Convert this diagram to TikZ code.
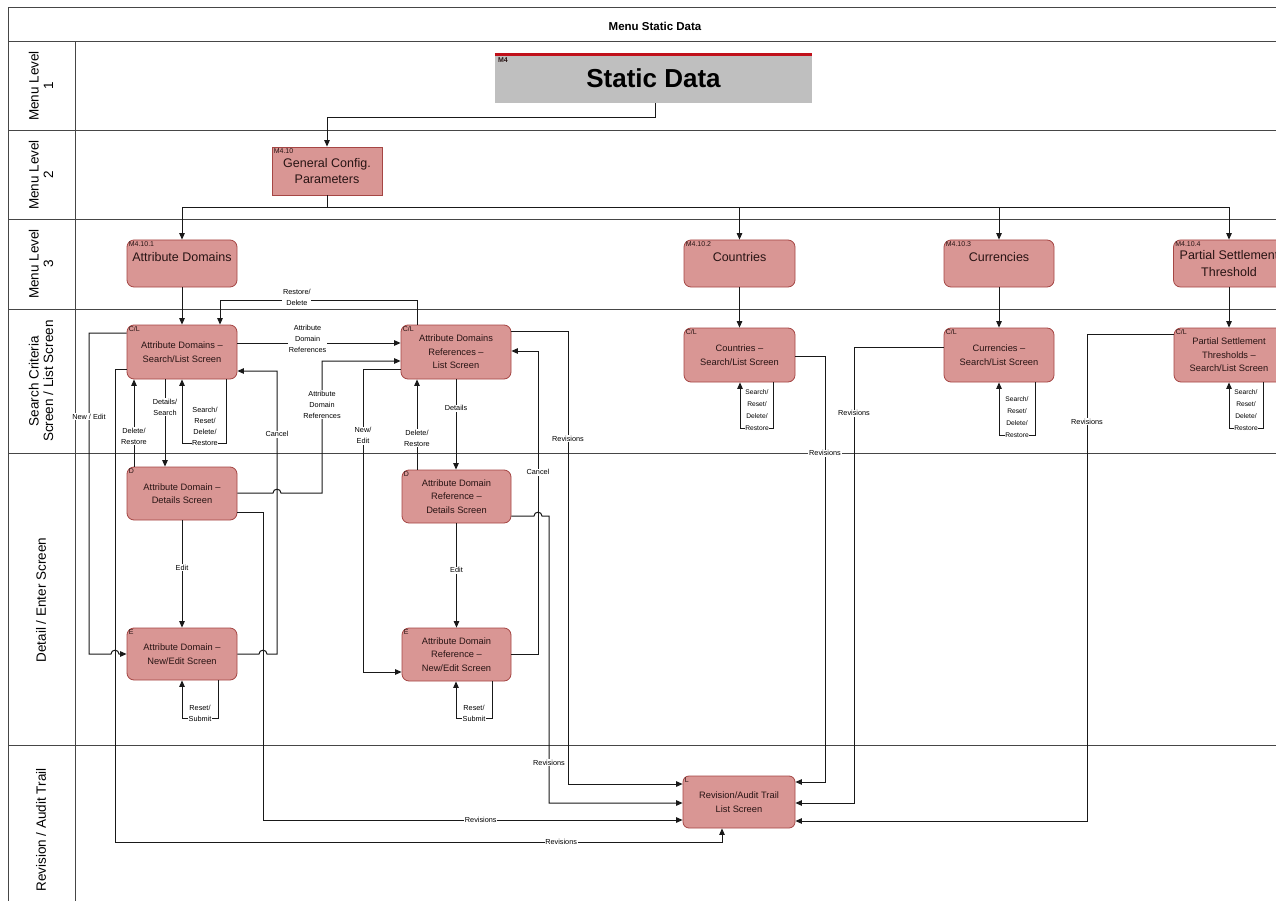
\documentclass[tikz,border=0pt]{standalone}
\usepackage{fontspec}
\setmainfont{Liberation Sans}
\usetikzlibrary{arrows.meta}
\definecolor{boxfill}{RGB}{217,150,148}
\definecolor{boxdraw}{RGB}{165,70,68}
\definecolor{boxtext}{RGB}{40,20,20}
\definecolor{lanecol}{RGB}{70,70,70}
\definecolor{linecol}{RGB}{25,25,25}
\definecolor{grayfill}{RGB}{191,191,191}
\definecolor{topred}{RGB}{192,16,26}
\tikzset{
 lane/.style={draw=lanecol, line width=1pt},
 box/.style={draw=boxdraw, fill=boxfill, rounded corners=7pt, line width=0.8pt, align=center,
   font=\fontsize{9.3}{13.5}\selectfont, inner sep=0pt, text=boxtext},
 sqbox/.style={box, rounded corners=0pt},
 lvlbox/.style={box, font=\fontsize{12.5}{16.5}\selectfont},
 idlab/.style={anchor=north west, font=\fontsize{7}{7.5}\selectfont, inner xsep=2pt, inner ysep=1.8pt, text=boxtext},
 lab/.style={fill=white, inner sep=0.8pt, align=center, font=\fontsize{7.3}{11}\selectfont},
 slab/.style={fill=white, inner sep=0.3pt, align=center, font=\fontsize{6.7}{12}\selectfont},
 conn/.style={draw=linecol, line width=1pt},
 arr/.style={conn, -{Triangle[length=6.5pt,width=5.5pt]}},
 lanelab/.style={rotate=90, align=center, font=\fontsize{13.5}{14.5}\selectfont},
}
\begin{document}
\begin{tikzpicture}[x=1pt,y=-1pt]
\useasboundingbox (0,0) rectangle (1276,901);
\clip (0,0) rectangle (1276,901);
\fill[white] (0,0) rectangle (1276,901);

% frame and lanes
\draw[lane] (8,901) -- (8,8) -- (1276,8);
\foreach \yy in {42,131,220,309,453,745} {\draw[lane] (8,\yy) -- (1276,\yy);}
\draw[lane] (75,42) -- (75,901);
\node[font=\bfseries\fontsize{11.5}{12}\selectfont] (title) at (655,26) {Menu Static Data};
\node[lanelab] (ll1) at (41,86) {Menu Level\\1};
\node[lanelab] (ll2) at (41,175) {Menu Level\\2};
\node[lanelab] (ll3) at (41,264) {Menu Level\\3};
\node[lanelab] (ll4) at (41,381) {Search Criteria\\Screen / List Screen};
\node[lanelab] (ll5) at (41,600) {Detail / Enter Screen};
\node[lanelab] (ll6) at (41,830) {Revision / Audit Trail};

% level 1
\node[fill=grayfill, minimum width=317pt, minimum height=50pt, inner sep=0pt,
  font=\bfseries\fontsize{26}{28}\selectfont] (static) at (653.5,78) {Static Data};
\draw[line width=3pt, draw=topred] ([yshift=-1.5pt]static.north west) -- ([yshift=-1.5pt]static.north east);
\node[idlab, font=\bfseries\fontsize{7}{7.5}\selectfont, inner xsep=3pt] (m4id) at ([yshift=-3pt]static.north west) {M4};

% level 2
\node[sqbox, lvlbox, rounded corners=0pt, minimum width=110pt, minimum height=48pt] (gcp) at (327,171) {General Config.\\Parameters};
\node[idlab] (gcpid) at (gcp.north west) {M4.10};

% level 3
\node[lvlbox, minimum width=110pt, minimum height=47pt] (ad) at (182,263.5) {Attribute Domains\\[-3pt]\mbox{}};
\node[idlab] (adid) at (ad.north west) {M4.10.1};
\node[lvlbox, minimum width=111pt, minimum height=47pt] (countries) at (739.5,263.5) {Countries\\[-3pt]\mbox{}};
\node[idlab] (countriesid) at (countries.north west) {M4.10.2};
\node[lvlbox, minimum width=110pt, minimum height=47pt] (currencies) at (999,263.5) {Currencies\\[-3pt]\mbox{}};
\node[idlab] (currenciesid) at (currencies.north west) {M4.10.3};
\node[lvlbox, minimum width=111pt, minimum height=47pt] (partial) at (1229,263.5) {Partial Settlement\\Threshold};
\node[idlab] (partialid) at (partial.north west) {M4.10.4};

% search / list lane
\node[box, minimum width=110pt, minimum height=54pt] (adsl) at (182,352) {Attribute Domains –\\Search/List Screen};
\node[idlab] (adslid) at (adsl.north west) {C/L};
\node[box, minimum width=110pt, minimum height=54pt] (adrl) at (456,352) {Attribute Domains\\References –\\List Screen};
\node[idlab] (adrlid) at (adrl.north west) {C/L};
\node[box, minimum width=111pt, minimum height=54pt] (csl) at (739.5,355) {Countries –\\Search/List Screen};
\node[idlab] (cslid) at (csl.north west) {C/L};
\node[box, minimum width=110pt, minimum height=54pt] (cusl) at (999,355) {Currencies –\\Search/List Screen};
\node[idlab] (cuslid) at (cusl.north west) {C/L};
\node[box, minimum width=110pt, minimum height=54pt] (psl) at (1229,355) {Partial Settlement\\Thresholds –\\Search/List Screen};
\node[idlab] (pslid) at (psl.north west) {C/L};

% detail lane
\node[box, minimum width=110pt, minimum height=53pt] (add) at (182,493.5) {Attribute Domain –\\Details Screen};
\node[idlab] (addid) at (add.north west) {D};
\node[box, minimum width=110pt, minimum height=52pt] (adne) at (182,654) {Attribute Domain –\\New/Edit Screen};
\node[idlab] (adneid) at (adne.north west) {E};
\node[box, minimum width=109pt, minimum height=53pt] (adrd) at (456.5,496.5) {Attribute Domain\\Reference –\\Details Screen};
\node[idlab] (adrdid) at (adrd.north west) {D};
\node[box, minimum width=109pt, minimum height=53pt] (adrne) at (456.5,654.5) {Attribute Domain\\Reference –\\New/Edit Screen};
\node[idlab] (adrneid) at (adrne.north west) {E};

% revision lane
\node[box, rounded corners=6pt, minimum width=112pt, minimum height=52pt] (rev) at (739,802) {Revision/Audit Trail\\List Screen};
\node[idlab] (revid) at (rev.north west) {L};

% menu connectors
\draw[arr] (static.south -| 655,0) -- ++(0,14) -| (gcp.north);
\draw[arr] (gcp.south) -- ++(0,12) -| (ad.north);
\draw[arr] (gcp.south) -- ++(0,12) -| (countries.north);
\draw[arr] (gcp.south) -- ++(0,12) -| (currencies.north);
\draw[arr] (gcp.south) -- ++(0,12) -| (partial.north);
\draw[arr] (ad) -- (adsl);
\draw[arr] (countries.south) -- (csl.north);
\draw[arr] (currencies.south) -- (cusl.north);
\draw[arr] (partial.south) -- (psl.north);

% attribute domains search/list
\draw[arr] (adrl.north -| 417,0) -- (417,300) -- node[lab, pos=0.61, yshift=3pt]{Restore/\\Delete} (220,300) -- (adsl.north -| 220,0);
\draw[arr] (adsl.east |- 0,343) -- node[lab, pos=0.43, yshift=4pt]{Attribute\\Domain\\References} (adrl.west |- 0,343);
\draw[arr] (add.east |- 0,493) -- (273,493) .. controls (273,488) and (281,488) .. (281,493) -- (322,493)
   -- node[lab, pos=0.667]{Attribute\\Domain\\References} (322,361) -- (adrl.west |- 0,361);
\draw[arr] (adne.east |- 0,654) -- (259,654) .. controls (259,649) and (267,649) .. (267,654) -- (277,654)
   -- node[lab, pos=0.777]{Cancel} (277,371) -- (adsl.east |- 0,371);
\draw[arr] (add.east |- 0,512) -- (263,512) -- (263,820) -- node[lab, pos=0.519]{Revisions} (rev.west |- 0,820);
\draw[arr] (adsl.south -| 165,0) -- node[lab, pos=0.32]{Details/\\Search} (add.north -| 165,0);
\draw[arr] (add.north -| 134,0) -- node[lab, pos=0.35]{Delete/\\Restore} (adsl.south -| 134,0);
\draw[arr] (adsl.south -| 226,0) -- (226,443) -- (182,443) -- (adsl.south);
\node[lab, inner sep=0.3pt] (adslloop) at (205,426) {Search/\\Reset/\\Delete/\\Restore};
\draw[arr] (adsl.west |- 0,333) -- (89,333) -- node[lab, pos=0.26]{New / Edit} (89,654) -- (111,654)
   .. controls (111,649) and (119,649) .. (119,654) -- (adne.west |- 0,654);
\draw[arr] (adsl.west |- 0,369) -- (115,369) -- (115,842) -- node[lab, pos=0.735]{Revisions} (722,842) -- (rev.south -| 722,0);
\draw[arr] (add) -- node[lab, pos=0.44]{Edit} (adne);
\draw[arr] (adne.south -| 218,0) -- (218,718) -- (182,718) -- (adne.south);
\node[lab, inner sep=0.3pt] (adneloop) at (200,713) {Reset/\\Submit};

% attribute domain references
\draw[arr] (adrl.south -| 456,0) -- node[lab, pos=0.32]{Details} (adrd.north -| 456,0);
\draw[arr] (adrd.north -| 417,0) -- node[lab, pos=0.35]{Delete/\\Restore} (adrl.south -| 417,0);
\draw[arr] (adrl.west |- 0,369) -- (363,369) -- node[lab, pos=0.22]{New/\\Edit} (363,672) -- (adrne.west |- 0,672);
\draw[arr] (adrne.east |- 0,654) -- (538,654) -- node[lab, pos=0.6]{Cancel} (538,351) -- (adrl.east |- 0,351);
\draw[arr] (adrd.east |- 0,516) -- (534,516) .. controls (534,511) and (542,511) .. (542,516) -- (549,516)
   -- node[lab, pos=0.86]{Revisions} (549,803) -- (rev.west |- 0,803);
\draw[arr] (adrl.east |- 0,331) -- (568,331) -- node[lab, pos=0.238]{Revisions} (568,784) -- (rev.west |- 0,784);
\draw[arr] (adrd) -- node[lab, pos=0.45]{Edit} (adrne);
\draw[arr] (adrne.south -| 492,0) -- (492,718) -- (456,718) -- (adrne.south -| 456,0);
\node[lab, inner sep=0.3pt] (adrneloop) at (474,713) {Reset/\\Submit};

% countries, currencies, partial
\draw[arr] (csl.east |- 0,356) -- (825,356) -- node[lab, pos=0.228]{Revisions} (825,782) -- (rev.east |- 0,782);
\draw[arr] (cusl.west |- 0,347) -- (854,347) -- node[lab, pos=0.145]{Revisions} (854,803) -- (rev.east |- 0,803);
\draw[arr] (psl.west |- 0,334) -- (1087,334) -- node[lab, pos=0.18]{Revisions} (1087,821) -- (rev.east |- 0,821);
\draw[arr] (csl.south -| 773,0) -- (773,428) -- (740,428) -- (csl.south -| 740,0);
\node[slab] (cslloop) at (757,410) {Search/\\Reset/\\Delete/\\Restore};
\draw[arr] (cusl.south -| 1035,0) -- (1035,435) -- (999,435) -- (cusl.south -| 999,0);
\node[slab] (cusloop) at (1017,417) {Search/\\Reset/\\Delete/\\Restore};
\draw[arr] (psl.south -| 1263,0) -- (1263,428) -- (1229,428) -- (psl.south -| 1229,0);
\node[slab] (pslloop) at (1246,410) {Search/\\Reset/\\Delete/\\Restore};
\end{tikzpicture}
\end{document}
